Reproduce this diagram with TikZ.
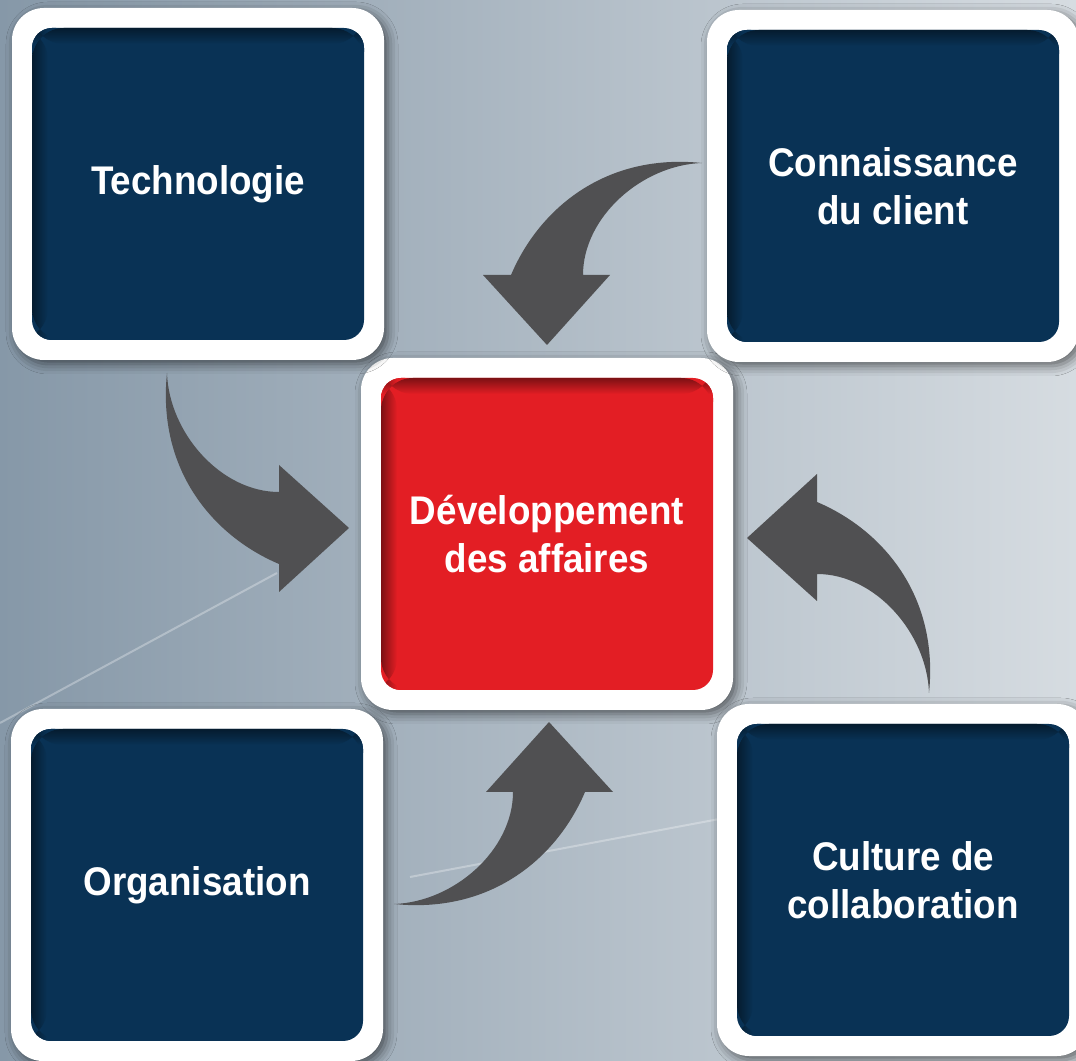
\documentclass[tikz,border=0pt]{standalone}
\usepackage{fontspec}
\setmainfont{Liberation Sans}[FakeStretch=0.92]
\usepackage{tikz}
\usetikzlibrary{shadows.blur}

\definecolor{navy}{RGB}{9,50,85}
\definecolor{devred}{RGB}{227,30,36}
\definecolor{arrowgray}{RGB}{80,80,82}
\definecolor{bgleft}{RGB}{134,152,168}
\definecolor{bgmid}{RGB}{184,198,208}
\definecolor{bgright}{RGB}{214,220,225}

\tikzset{
  box/.style={rectangle, fill=white, rounded corners=16pt, outer sep=0pt,
    minimum width=186pt, minimum height=176pt, align=center, text=white,
    font=\bfseries\fontsize{20}{24}\selectfont,
    blur shadow={shadow xshift=2pt, shadow yshift=-2pt, shadow blur radius=5pt, shadow opacity=55},
    path picture={
      \begin{scope}
        \clip[rounded corners=10pt] ([shift={(10pt,10pt)}]path picture bounding box.south west) rectangle ([shift={(-10pt,-10pt)}]path picture bounding box.north east);
        \fill[#1] (path picture bounding box.south west) rectangle (path picture bounding box.north east);
        \shade[left color=#1!55!black, right color=#1] ([shift={(10pt,10pt)}]path picture bounding box.south west) rectangle ([shift={(18pt,-10pt)}]path picture bounding box.north west);
        \shade[top color=#1!55!black, bottom color=#1] ([shift={(10pt,-18pt)}]path picture bounding box.north west) rectangle ([shift={(-10pt,-10pt)}]path picture bounding box.north east);
      \end{scope}
    }},
  bend arrow/.pic={
    \fill[arrowgray] (0,0) -- (-70,-64) -- (-70,-36)
      .. controls (-136,-8) and (-192,58) .. (-182,155)
      .. controls (-180,95) and (-128,36) .. (-70,36) -- (-70,63) -- cycle;
  },
}

\begin{document}
\begin{tikzpicture}[x=0.5pt, y=0.5pt]
  \useasboundingbox (0,0) rectangle (1076,1060);
  \shade[left color=bgleft, middle color=bgmid, right color=bgright] (0,0) rectangle (1076,1060);
  % faint streaks
  \draw[white, opacity=.3, line width=1pt] (0,337) -- (277,487);
  \draw[white, opacity=.3, line width=1pt] (410,183) -- (730,243);

  % boxes
  \node[box=devred] (dev) at (547,526) {Développement\\des affaires};
  \node[box=navy] (tech) at (198,876) {Technologie};
  \node[box=navy] (client) at (893,874) {Connaissance\\du client};
  \node[box=navy] (orga) at (197,175) {Organisation};
  \node[box=navy] (culture) at (903,180) {Culture de\\collaboration};

  % arrow tips
  \coordinate (tipA) at ([xshift=-6pt, yshift=3pt]dev.west);
  \coordinate (tipB) at ([yshift=6.5pt]dev.north);
  \coordinate (tipC) at ([xshift=1pt, yshift=-6pt]dev.south);
  \coordinate (tipD) at ([xshift=7pt, yshift=-2pt]dev.east);

  \pic at (tipA) {bend arrow};
  \pic[rotate=-90] at (tipB) {bend arrow};
  \pic[rotate=90] at (tipC) {bend arrow};
  \pic[rotate=180] at (tipD) {bend arrow};
\end{tikzpicture}
\end{document}
